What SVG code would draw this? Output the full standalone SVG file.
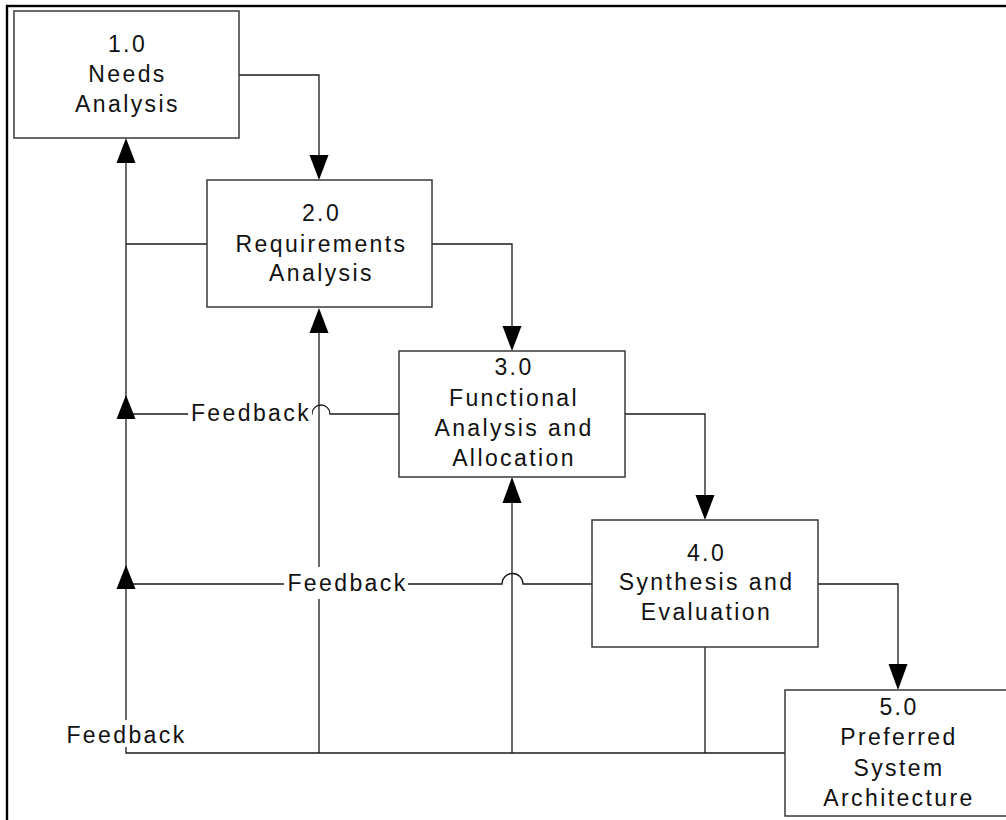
<svg xmlns="http://www.w3.org/2000/svg" width="1006" height="820" viewBox="0 0 1006 820">
<style>
.box{fill:#fff;stroke:#3a3a3a;stroke-width:1.5}
.t{font-family:"Liberation Sans",Arial,sans-serif;font-size:23px;letter-spacing:2.4px;fill:#111;text-anchor:middle}
.ln{fill:none;stroke:#1a1a1a;stroke-width:1.3}
.ah{fill:#000}
.bg{fill:#fff}
</style>
<rect x="0" y="0" width="1006" height="820" fill="#fff"/>
<rect x="7" y="6" width="1030" height="850" fill="none" stroke="#000" stroke-width="2.4"/>
<g id="connectors">
  <path class="ln" d="M239,75 H319 V156"/>
  <path class="ln" d="M432,244 H512 V327"/>
  <path class="ln" d="M625,414 H705 V496"/>
  <path class="ln" d="M818,584 H898 V665"/>
  <path class="ln" d="M207,244 H126"/>
  <path class="ln" d="M785,753 H126 V160"/>
  <path class="ln" d="M319,753 V330"/>
  <path class="ln" d="M512,753 V500"/>
  <path class="ln" d="M705,753 V647"/>
  <path class="ln" d="M399,414 H330 A9,9 0 0 0 312,414 H305 M195,414 H126"/>
  <path class="ln" d="M592,584 H523 A10.5,10.5 0 0 0 502,584 H400 M290,584 H126"/>
  <polygon class="ah" points="319,180 309.5,155 328.5,155"/>
  <polygon class="ah" points="512,351 502.5,326 521.5,326"/>
  <polygon class="ah" points="705,520 695.5,495 714.5,495"/>
  <polygon class="ah" points="898,690 888.5,664 907.5,664"/>
  <polygon class="ah" points="126,138 116.5,163 135.5,163"/>
  <polygon class="ah" points="319,308 309.5,333 328.5,333"/>
  <polygon class="ah" points="512,477 502.5,503 521.5,503"/>
  <polygon class="ah" points="126,395 116.5,419 135.5,419"/>
  <polygon class="ah" points="126,565 116.5,589 135.5,589"/>
</g>
<g id="feedback1">
  <rect class="bg" x="188" y="400" width="124" height="26"/>
  <text class="t" x="251" y="421">Feedback</text>
</g>
<g id="feedback2">
  <rect class="bg" x="284" y="567" width="124" height="32"/>
  <text class="t" x="347.5" y="591">Feedback</text>
</g>
<g id="feedback3">
  <rect class="bg" x="62" y="720" width="128" height="27"/>
  <text class="t" x="126.5" y="743">Feedback</text>
</g>
<g id="node1">
  <rect class="box" x="14" y="11" width="225" height="127"/>
  <text class="t" x="127.5" y="52">1.0</text>
  <text class="t" x="127.5" y="82">Needs</text>
  <text class="t" x="127.5" y="112">Analysis</text>
</g>
<g id="node2">
  <rect class="box" x="207" y="180" width="225" height="127"/>
  <text class="t" x="321.5" y="221">2.0</text>
  <text class="t" x="321.5" y="251.5">Requirements</text>
  <text class="t" x="321.5" y="281">Analysis</text>
</g>
<g id="node3">
  <rect class="box" x="399" y="351" width="226" height="126"/>
  <text class="t" x="514" y="375">3.0</text>
  <text class="t" x="514" y="406">Functional</text>
  <text class="t" x="514" y="436">Analysis and</text>
  <text class="t" x="514" y="466">Allocation</text>
</g>
<g id="node4">
  <rect class="box" x="592" y="520" width="226" height="127"/>
  <text class="t" x="706.5" y="561">4.0</text>
  <text class="t" x="706.5" y="590">Synthesis and</text>
  <text class="t" x="706.5" y="620">Evaluation</text>
</g>
<g id="node5">
  <rect class="box" x="785" y="690" width="225" height="126"/>
  <text class="t" x="899" y="715">5.0</text>
  <text class="t" x="899" y="745">Preferred</text>
  <text class="t" x="899" y="776">System</text>
  <text class="t" x="899" y="806">Architecture</text>
</g>
</svg>
